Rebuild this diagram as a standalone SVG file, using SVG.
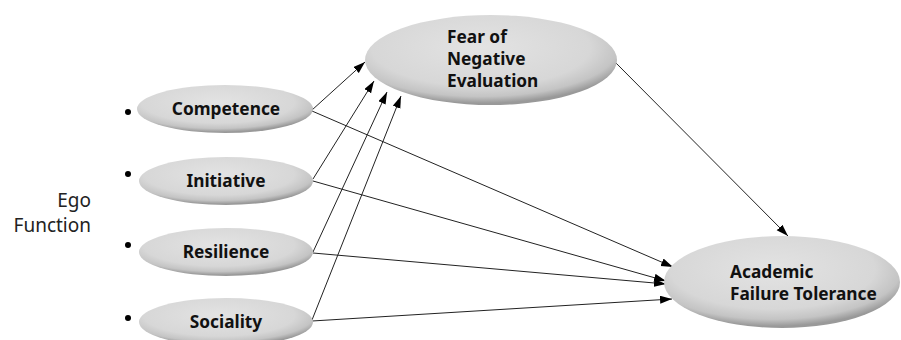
<svg xmlns="http://www.w3.org/2000/svg" width="901" height="340" viewBox="0 0 901 340">
<style>
.node{fill:url(#g);}
.lbl{font-family:"Noto Sans","Liberation Sans",sans-serif;font-weight:bold;font-size:17.3px;fill:#111;}
.ego{font-family:"Noto Sans","Liberation Sans",sans-serif;font-size:19px;fill:#222;}
.edge{stroke:#222;stroke-width:1;fill:none;marker-end:url(#ah);}
</style>
<defs>
<radialGradient id="g" cx="46%" cy="36%" r="62%">
<stop offset="0" stop-color="#e3e3e3"/>
<stop offset="0.7" stop-color="#d7d7d7"/>
<stop offset="0.88" stop-color="#c4c4c4"/>
<stop offset="1" stop-color="#999"/>
</radialGradient>
<marker id="ah" markerUnits="userSpaceOnUse" markerWidth="13" markerHeight="9" refX="12" refY="4" orient="auto">
<path d="M0,0 L12,4 L0,8 z" fill="#000"/>
</marker>
</defs>
<rect width="901" height="340" fill="#fff"/>
<g id="ego-label">
<text class="ego" x="91" y="207" text-anchor="end">Ego</text>
<text class="ego" x="91" y="232" text-anchor="end">Function</text>
<circle cx="128" cy="112" r="3" fill="#000"/>
<circle cx="128" cy="174" r="3" fill="#000"/>
<circle cx="128" cy="245" r="3" fill="#000"/>
<circle cx="128" cy="318" r="3" fill="#000"/>
</g>
<g id="connectors">
<line class="edge" x1="312" y1="110" x2="365" y2="62"/>
<line class="edge" x1="313" y1="179" x2="374" y2="81"/>
<line class="edge" x1="313" y1="252" x2="387" y2="92"/>
<line class="edge" x1="312" y1="320" x2="401" y2="96"/>
<line class="edge" x1="312" y1="111" x2="673" y2="267"/>
<line class="edge" x1="313" y1="181" x2="666" y2="281"/>
<line class="edge" x1="313" y1="253" x2="666" y2="284"/>
<line class="edge" x1="312" y1="321" x2="672" y2="299"/>
<line class="edge" x1="615" y1="62" x2="788" y2="236"/>
</g>
<g id="competence">
<ellipse class="node" cx="225" cy="109" rx="88" ry="24"/>
<text class="lbl" x="226" y="115" text-anchor="middle">Competence</text>
</g>
<g id="initiative">
<ellipse class="node" cx="226" cy="181" rx="87" ry="24"/>
<text class="lbl" x="226" y="187" text-anchor="middle">Initiative</text>
</g>
<g id="resilience">
<ellipse class="node" cx="226" cy="252" rx="87" ry="24"/>
<text class="lbl" x="226" y="258" text-anchor="middle">Resilience</text>
</g>
<g id="sociality">
<ellipse class="node" cx="226" cy="322" rx="87" ry="24"/>
<text class="lbl" x="226" y="328" text-anchor="middle">Sociality</text>
</g>
<g id="fne">
<ellipse class="node" cx="491" cy="60" rx="126" ry="45"/>
<text class="lbl" x="447" y="43">Fear of</text>
<text class="lbl" x="447" y="65">Negative</text>
<text class="lbl" x="447" y="87">Evaluation</text>
</g>
<g id="aft">
<ellipse class="node" cx="782" cy="282" rx="118" ry="46"/>
<text class="lbl" x="730" y="278">Academic</text>
<text class="lbl" x="730" y="300">Failure Tolerance</text>
</g>
</svg>
